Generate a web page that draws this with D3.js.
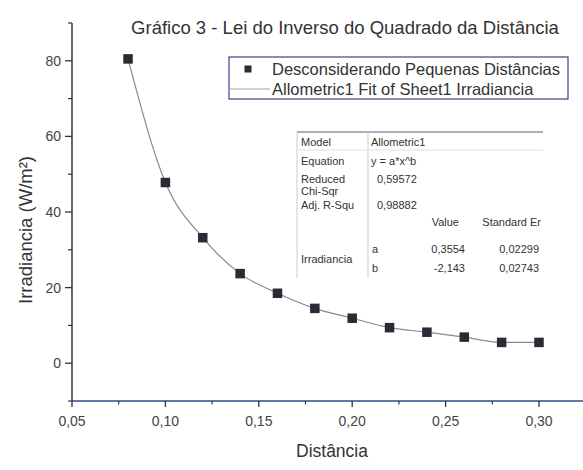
<!DOCTYPE html>
<html><head><meta charset="utf-8">
<script src="https://cdn.jsdelivr.net/npm/d3@7"></script>
<style>
html,body{margin:0;padding:0;background:#fff;}
svg{display:block;font-family:"Liberation Sans",Arial,sans-serif;}
</style></head>
<body>
<svg id="c" width="583" height="470"></svg>
<script>
const distancia = [0.08,0.10,0.12,0.14,0.16,0.18,0.20,0.22,0.24,0.26,0.28,0.30];
const irradiancia = [80.5,47.8,33.2,23.7,18.5,14.5,11.9,9.4,8.2,6.9,5.5,5.5];
const xTicks = [0.05,0.10,0.15,0.20,0.25,0.30];
const xMinor = [0.075,0.125,0.175,0.225,0.275];
const yTicks = [0,20,40,60,80];
const yMinor = [-10,10,30,50,70,90];
const title = "Gráfico 3 - Lei do Inverso do Quadrado da Distância";
const legendLabels = ["Desconsiderando Pequenas Distâncias","Allometric1 Fit of Sheet1 Irradiancia"];
const tableRows = [
  ["Model","Allometric1"],
  ["Equation","y = a*x^b"],
  ["Reduced\nChi-Sqr","0,59572"],
  ["Adj. R-Squ","0,98882"]
];
const paramHeader = ["Value","Standard Er"];
const paramRows = [["a","0,3554","0,02299"],["b","-2,143","0,02743"]];

const svg = d3.select("#c");
const x = d3.scaleLinear().domain([0.05,0.30]).range([72,539]);
const y = d3.scaleLinear().domain([-10,90]).range([401,23]);
const fmt = d => d3.format(".2f")(d).replace(".",",");

// title
svg.append("text").attr("x",345).attr("y",34).attr("text-anchor","middle")
  .attr("font-size",18.5).attr("fill","#333").text(title);

// x axis
const xg = svg.append("g").attr("transform","translate(0,401)");
xg.append("line").attr("x1",72).attr("x2",583).attr("stroke","#2f4a85").attr("stroke-width",1.6);
xg.selectAll(".xt").data(xTicks).join("line").attr("x1",d=>x(d)).attr("x2",d=>x(d))
  .attr("y1",0).attr("y2",6).attr("stroke","#333").attr("stroke-width",1.3);
xg.selectAll(".xm").data(xMinor).join("line").attr("x1",d=>x(d)).attr("x2",d=>x(d))
  .attr("y1",0).attr("y2",3.5).attr("stroke","#333").attr("stroke-width",1.2);
xg.selectAll(".xl").data(xTicks).join("text").attr("x",d=>x(d)).attr("y",25)
  .attr("text-anchor","middle").attr("font-size",14).attr("fill","#444").text(fmt);

// y axis
const yg = svg.append("g");
yg.append("line").attr("x1",72).attr("x2",72).attr("y1",y(90)).attr("y2",401).attr("stroke","#333").attr("stroke-width",1.5);
yg.selectAll(".yt").data(yTicks).join("line").attr("x1",65).attr("x2",72)
  .attr("y1",d=>y(d)).attr("y2",d=>y(d)).attr("stroke","#333").attr("stroke-width",1.3);
yg.selectAll(".ym").data(yMinor).join("line").attr("x1",68).attr("x2",72)
  .attr("y1",d=>y(d)).attr("y2",d=>y(d)).attr("stroke","#333").attr("stroke-width",1.2);
yg.selectAll(".yl").data(yTicks).join("text").attr("x",61).attr("y",d=>y(d)+5)
  .attr("text-anchor","end").attr("font-size",14).attr("fill","#444").text(d=>d);

// axis titles
svg.append("text").attr("x",332).attr("y",457).attr("text-anchor","middle")
  .attr("font-size",17.5).attr("fill","#333").text("Distância");
svg.append("text").attr("transform","translate(32,230) rotate(-90)").attr("text-anchor","middle")
  .attr("font-size",18.5).attr("fill","#333").text("Irradiancia (W/m²)");

// fit line (through data)
const pts = distancia.map((d,i)=>[d,irradiancia[i]]);
svg.append("path").datum(pts)
  .attr("d",d3.line().x(d=>x(d[0])).y(d=>y(d[1])).curve(d3.curveMonotoneX))
  .attr("fill","none").attr("stroke","#8a8794").attr("stroke-width",1.2);

// points
svg.selectAll(".pt").data(pts).join("rect")
  .attr("x",d=>x(d[0])-4.75).attr("y",d=>y(d[1])-4.75).attr("width",9.5).attr("height",9.5)
  .attr("fill","#2b2b38");

// legend
const lg = svg.append("g");
lg.append("rect").attr("x",229).attr("y",57).attr("width",339).attr("height",42)
  .attr("fill","#fff").attr("stroke","#3c3f8a").attr("stroke-width",1.2);
lg.append("rect").attr("x",244.5).attr("y",65.5).attr("width",7).attr("height",7).attr("fill","#2b2b38");
lg.append("line").attr("x1",230).attr("x2",270).attr("y1",89).attr("y2",89).attr("stroke","#b49ab8").attr("stroke-width",1.2);
lg.selectAll(".lt").data(legendLabels).join("text").attr("x",272).attr("y",(d,i)=>75+i*20)
  .attr("font-size",16.5).attr("fill","#333").text(d=>d);

// table
const tg = svg.append("g").attr("font-size",11).attr("fill","#333");
tg.append("rect").attr("x",297).attr("y",132).attr("width",246).attr("height",146).attr("fill","#fff").attr("stroke","none");
tg.append("line").attr("x1",297).attr("x2",543).attr("y1",132).attr("y2",132).attr("stroke","#5a5a7a").attr("stroke-width",1.2);
tg.append("line").attr("x1",297).attr("x2",297).attr("y1",132).attr("y2",278).attr("stroke","#ccc");
tg.append("line").attr("x1",368).attr("x2",368).attr("y1",132).attr("y2",278).attr("stroke","#ccc");
tg.append("line").attr("x1",297).attr("x2",543).attr("y1",150).attr("y2",150).attr("stroke","#dde");
const rowY = [146,165,183,209];
tableRows.forEach((r,i)=>{
  const lines = r[0].split("\n");
  lines.forEach((t,j)=>tg.append("text").attr("x",301).attr("y",rowY[i]+j*12).attr("fill","#333").text(t));
  tg.append("text").attr("x",i>=2?377:371).attr("y",rowY[i]).attr("fill","#333").text(r[1]);
});
tg.append("text").attr("x",459).attr("y",226).attr("text-anchor","end").text(paramHeader[0]);
tg.append("text").attr("x",541).attr("y",226).attr("text-anchor","end").text(paramHeader[1]);
tg.append("text").attr("x",301).attr("y",263).text("Irradiancia");
paramRows.forEach((r,i)=>{
  const yy = 253+i*19;
  tg.append("text").attr("x",372).attr("y",yy).text(r[0]);
  tg.append("text").attr("x",465).attr("y",yy).attr("text-anchor","end").text(r[1]);
  tg.append("text").attr("x",539).attr("y",yy).attr("text-anchor","end").text(r[2]);
});
</script>
</body></html>
